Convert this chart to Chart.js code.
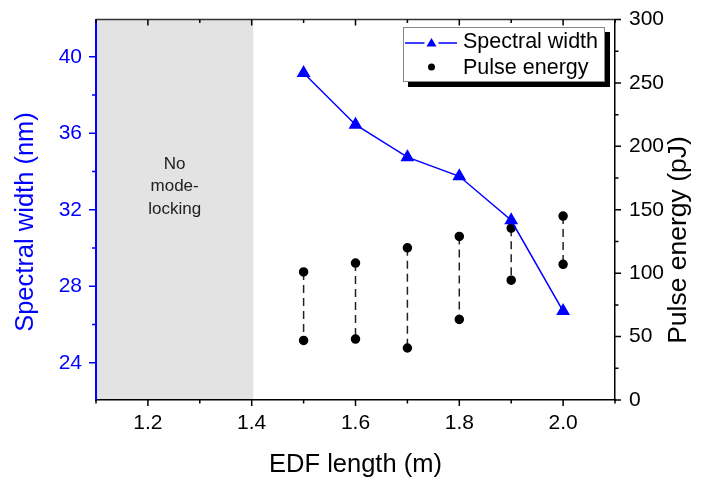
<!DOCTYPE html>
<html>
<head>
<meta charset="utf-8">
<script src="https://cdn.jsdelivr.net/npm/chart.js@4"></script>
<style>
  html, body { margin: 0; padding: 0; background: #fff; }
  #wrap { width: 708px; height: 483px; }
</style>
</head>
<body>
<div id="wrap"><canvas id="edf"></canvas></div>
<script>
// data
const edfLength = [1.5, 1.6, 1.7, 1.8, 1.9, 2.0];
const spectralWidth = [39.15, 36.45, 34.75, 33.75, 31.45, 26.7];
const energyHigh = [101, 108, 120, 129, 135.5, 145];
const energyLow = [47, 48, 41, 63.5, 94.5, 107];

const xTicks = [1.2, 1.4, 1.6, 1.8, 2.0];
const xMinorTicks = [1.1, 1.3, 1.5, 1.7, 1.9, 2.1];
const widthTicks = [24, 28, 32, 36, 40];
const widthMinorTicks = [26, 30, 34, 38];
const energyTicks = [0, 50, 100, 150, 200, 250, 300];
const energyMinorTicks = [25, 75, 125, 175, 225, 275];

const noLockRange = [1.1, 1.403];
const noLockText = ['No', 'mode-', 'locking'];

const FONT = '"Liberation Sans", Arial, sans-serif';
const BLUE = '#0000ff';

// one dashed segment per EDF length, joining the two pulse energies
const pairSets = edfLength.map((x, i) => ({
  label: 'Pulse energy',
  data: [{ x: x, y: energyHigh[i] }, { x: x, y: energyLow[i] }],
  yAxisID: 'y1',
  borderColor: '#222',
  borderWidth: 1.5,
  borderDash: [8, 5],
  pointRadius: 4,
  pointBackgroundColor: '#000',
  pointBorderColor: '#000',
  order: 2
}));

function marks(ctx, list) {
  ctx.beginPath();
  list.forEach(m => { ctx.moveTo(m[0], m[1]); ctx.lineTo(m[2], m[3]); });
  ctx.stroke();
}

function sideTitle(ctx, text, x, y, color, size) {
  ctx.save();
  ctx.translate(x, y);
  ctx.rotate(-Math.PI / 2);
  ctx.fillStyle = color;
  ctx.font = size + 'px ' + FONT;
  ctx.textAlign = 'center';
  ctx.textBaseline = 'middle';
  ctx.fillText(text, 0, 0);
  ctx.restore();
}

// fixed box sizes so the plot area matches the figure
function fixBox(prop, size) {
  return s => {
    s[prop] = size;
    s.paddingTop = 0; s.paddingBottom = 0; s.paddingLeft = 0; s.paddingRight = 0;
  };
}

const frame = {
  id: 'frame',
  beforeDraw(chart) {
    const { ctx, chartArea: a, scales: { x, y } } = chart;
    const x0 = x.getPixelForValue(noLockRange[0]);
    const x1 = x.getPixelForValue(noLockRange[1]);
    ctx.save();
    ctx.fillStyle = '#e3e3e3';
    ctx.fillRect(x0, a.top, x1 - x0, a.bottom - a.top);
    ctx.fillStyle = '#222';
    ctx.font = '17px ' + FONT;
    ctx.textAlign = 'center';
    ctx.textBaseline = 'middle';
    const mid = y.getPixelForValue(33.2);
    noLockText.forEach((t, i) => ctx.fillText(t, (x0 + x1) / 2, mid + (i - 1) * 22.5));
    ctx.restore();
  },
  afterDraw(chart) {
    const { ctx, chartArea: a, scales: { x, y, y1 } } = chart;
    ctx.save();
    ctx.lineWidth = 1.5;
    // top frame line
    ctx.strokeStyle = '#333';
    marks(ctx, [[a.left, a.top, a.right, a.top]]);

    ctx.strokeStyle = '#000';
    // bottom ticks (outward) and top ticks (inward)
    marks(ctx, xTicks.map(v => { const p = x.getPixelForValue(v); return [p, a.bottom, p, a.bottom + 6]; }));
    marks(ctx, xMinorTicks.map(v => { const p = x.getPixelForValue(v); return [p, a.bottom, p, a.bottom + 3.5]; }));
    marks(ctx, xTicks.map(v => { const p = x.getPixelForValue(v); return [p, a.top, p, a.top + 6]; }));
    marks(ctx, xMinorTicks.map(v => { const p = x.getPixelForValue(v); return [p, a.top, p, a.top + 3.5]; }));
    // right axis
    marks(ctx, energyTicks.map(v => { const p = y1.getPixelForValue(v); return [a.right, p, a.right + 6, p]; }));
    marks(ctx, energyMinorTicks.map(v => { const p = y1.getPixelForValue(v); return [a.right, p, a.right + 3.5, p]; }));
    // left axis
    ctx.strokeStyle = BLUE;
    marks(ctx, widthTicks.map(v => { const p = y.getPixelForValue(v); return [a.left - 7, p, a.left, p]; }));
    marks(ctx, widthMinorTicks.map(v => { const p = y.getPixelForValue(v); return [a.left - 4, p, a.left, p]; }));

    // axis titles (both read bottom to top)
    sideTitle(ctx, 'Spectral width (nm)', 26, 222, BLUE, 25.5);
    sideTitle(ctx, 'Pulse energy (pJ)', 679, 240, '#000', 26.5);

    // legend box with drop shadow
    const bx = a.right - 212, by = a.top + 7.5, bw = 202, bh = 55;
    ctx.fillStyle = '#000';
    ctx.fillRect(bx + 5, by + 5, bw, bh);
    ctx.fillStyle = '#fff';
    ctx.fillRect(bx, by, bw, bh);
    ctx.strokeStyle = '#888';
    ctx.lineWidth = 1;
    ctx.strokeRect(bx + 0.5, by + 0.5, bw - 1, bh - 1);

    const r1 = by + 16, r2 = by + 40, mx = bx + 28.5;
    ctx.strokeStyle = BLUE;
    ctx.lineWidth = 1.5;
    marks(ctx, [[bx + 2, r1, mx - 7, r1], [mx + 7, r1, bx + 54, r1]]);
    ctx.fillStyle = BLUE;
    ctx.beginPath();
    ctx.moveTo(mx, r1 - 5);
    ctx.lineTo(mx + 5, r1 + 3.5);
    ctx.lineTo(mx - 5, r1 + 3.5);
    ctx.closePath();
    ctx.fill();
    ctx.fillStyle = '#000';
    ctx.beginPath();
    ctx.arc(mx, r2, 3.5, 0, Math.PI * 2);
    ctx.fill();

    ctx.font = '21.5px ' + FONT;
    ctx.textAlign = 'left';
    ctx.textBaseline = 'middle';
    ctx.fillText('Spectral width', bx + 60, r1 - 1);
    ctx.fillText('Pulse energy', bx + 60, r2 + 1);
    ctx.restore();
  }
};

new Chart(document.getElementById('edf'), {
  type: 'line',
  data: {
    datasets: [
      {
        label: 'Spectral width',
        data: edfLength.map((x, i) => ({ x: x, y: spectralWidth[i] })),
        yAxisID: 'y',
        borderColor: BLUE,
        borderWidth: 1.5,
        pointStyle: 'triangle',
        pointRadius: 6.5,
        pointBackgroundColor: BLUE,
        pointBorderColor: BLUE,
        order: 0
      },
      ...pairSets
    ]
  },
  options: {
    responsive: true,
    maintainAspectRatio: false,
    animation: false,
    layout: { padding: { top: 19.5 } },
    plugins: { legend: { display: false }, tooltip: { enabled: false } },
    scales: {
      x: {
        type: 'linear',
        min: 1.1,
        max: 2.1,
        afterBuildTicks: s => { s.ticks = xTicks.map(v => ({ value: v })); },
        afterFit: fixBox('height', 83),
        grid: { drawOnChartArea: false, drawTicks: false },
        border: { color: '#000', width: 1.5 },
        ticks: { color: '#000', padding: 11, font: { family: FONT, size: 21 }, callback: v => v.toFixed(1) },
        title: { display: true, text: 'EDF length (m)', color: '#000', font: { family: FONT, size: 25.5 }, padding: { top: 0, bottom: 3 } }
      },
      y: {
        position: 'left',
        min: 22.05,
        max: 41.95,
        afterBuildTicks: s => { s.ticks = widthTicks.map(v => ({ value: v })); },
        afterFit: fixBox('width', 96),
        grid: { drawOnChartArea: false, drawTicks: false },
        border: { color: BLUE, width: 2 },
        ticks: { color: BLUE, padding: 14, font: { family: FONT, size: 21 } }
      },
      y1: {
        position: 'right',
        min: 0,
        max: 300,
        afterBuildTicks: s => { s.ticks = energyTicks.map(v => ({ value: v })); },
        afterFit: fixBox('width', 93),
        grid: { drawOnChartArea: false, drawTicks: false },
        border: { color: '#000', width: 1.5 },
        ticks: { color: '#000', padding: 14, font: { family: FONT, size: 21 } }
      }
    }
  },
  plugins: [frame]
});
</script>
</body>
</html>
